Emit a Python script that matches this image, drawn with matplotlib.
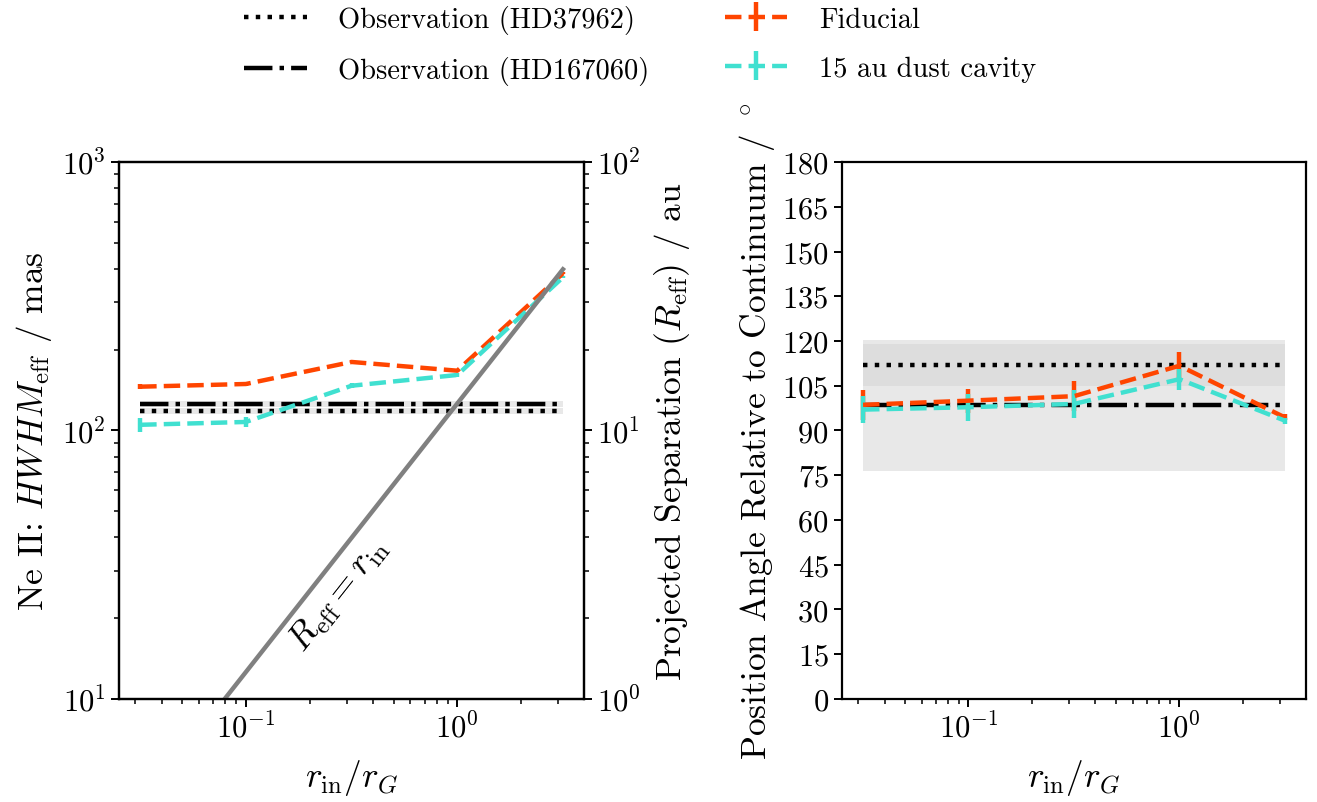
import numpy as np
import matplotlib
matplotlib.use('Agg')
import matplotlib.pyplot as plt

plt.rcParams['font.family'] = 'serif'
plt.rcParams['font.serif'] = ['cmr10', 'DejaVu Serif']
plt.rcParams['mathtext.fontset'] = 'cm'
plt.rcParams['axes.formatter.use_mathtext'] = True
plt.rcParams['font.size'] = 22
plt.rcParams['axes.labelsize'] = 25.5
plt.rcParams['axes.linewidth'] = 1.6
for a in ['xtick', 'ytick']:
    plt.rcParams[a + '.major.size'] = 6
    plt.rcParams[a + '.minor.size'] = 3.5
    plt.rcParams[a + '.major.width'] = 1.4
    plt.rcParams[a + '.minor.width'] = 1.1

# r_in / r_G
r_in = np.array([10**-1.5, 10**-1, 10**-0.5, 1.0, 10**0.5])

# HWHM_eff / mas
hwhm_fid = np.array([145.6, 149, 180, 167, 385])
hwhm_fid_err = np.array([3, 2, 2, 2, 3])
hwhm_cav = np.array([105, 107.6, 146.8, 161, 372])
hwhm_cav_err = np.array([6, 5, 3, 3, 3])

# position angle / deg
pa_fid = np.array([98.6, 100.0, 101.5, 111.7, 94.4])
pa_fid_err = np.array([5, 4, 5, 4.5, 1])
pa_cav = np.array([97.0, 97.8, 98.9, 107.2, 93.3])
pa_cav_err = np.array([4.5, 4.5, 4.6, 3.5, 1])

# observations
obs_hwhm = {'HD37962': (118.5, 3), 'HD167060': (125.5, 3)}
obs_pa = {'HD37962': (112, 7), 'HD167060': (98.4, 22)}

r_G_au = 12.6      # au per unit r_in/r_G
dist_fac = 10.0    # mas per au

c_fid = 'orangered'
c_cav = 'turquoise'
lw = 3.2

fig = plt.figure(figsize=(13.17, 8.03), dpi=100)
ax = fig.add_axes([0.0904, 0.1283, 0.3531, 0.6687])
ax3 = fig.add_axes([0.6393, 0.1283, 0.3523, 0.6687])

xr = [r_in[0], r_in[-1]]

# ---- left panel
for name, ls in [('HD37962', ':'), ('HD167060', '-.')]:
    v, e = obs_hwhm[name]
    ax.plot(xr, [v, v], color='k', ls=ls, lw=lw, label='Observation (%s)' % name)
    ax.fill_between(xr, v - e, v + e, color='k', alpha=0.09, lw=0)

ax.errorbar(r_in, hwhm_fid, yerr=hwhm_fid_err, fmt='--', color=c_fid, lw=lw, label='Fiducial')
ax.errorbar(r_in, hwhm_cav, yerr=hwhm_cav_err, fmt='--', color=c_cav, lw=lw, label='15 au dust cavity')

ax.set_xscale('log')
ax.set_yscale('log')
ax.set_ylim(10, 1000)
ax.set_xlabel(r'$r_\mathrm{in}/r_G$', labelpad=10)
ax.set_ylabel(r'Ne II: $HWHM_\mathrm{eff}$ / mas', labelpad=6)

ax2 = ax.twinx()
ax2.set_yscale('log')
ax2.set_ylim(10 / dist_fac, 1000 / dist_fac)
ax2.plot(r_in, r_G_au * r_in, color='grey', lw=lw)
ax2.set_ylabel(r'Projected Separation ($R_\mathrm{eff}$) / au', labelpad=8)
ax.text(0.275, 24.6, r'$R_\mathrm{eff} = r_\mathrm{in}$', rotation=51.7,
        ha='center', va='center', rotation_mode='anchor', fontsize=26)

# ---- right panel
for name, ls, a in [('HD37962', ':', 0.045), ('HD167060', '-.', 0.09)]:
    v, e = obs_pa[name]
    ax3.plot(xr, [v, v], color='k', ls=ls, lw=lw)
    ax3.fill_between(xr, v - e, v + e, color='k', alpha=a, lw=0)

ax3.errorbar(r_in, pa_fid, yerr=pa_fid_err, fmt='--', color=c_fid, lw=lw)
ax3.errorbar(r_in, pa_cav, yerr=pa_cav_err, fmt='--', color=c_cav, lw=lw)
ax3.set_xscale('log')
ax3.set_ylim(0, 180)
ax3.set_yticks(np.arange(0, 181, 15))
ax3.set_xlabel(r'$r_\mathrm{in}/r_G$', labelpad=10)
ax3.set_ylabel(r'Position Angle Relative to Continuum / $^\circ$')

h, l = ax.get_legend_handles_labels()
fig.legend(h, l, loc='upper center', ncol=2, frameon=False, bbox_to_anchor=(0.486, 1.025),
           fontsize=20.5, columnspacing=2.65, labelspacing=0.8, handlelength=2.2,
           handletextpad=1.1)

fig.savefig('out.png', dpi=100)
